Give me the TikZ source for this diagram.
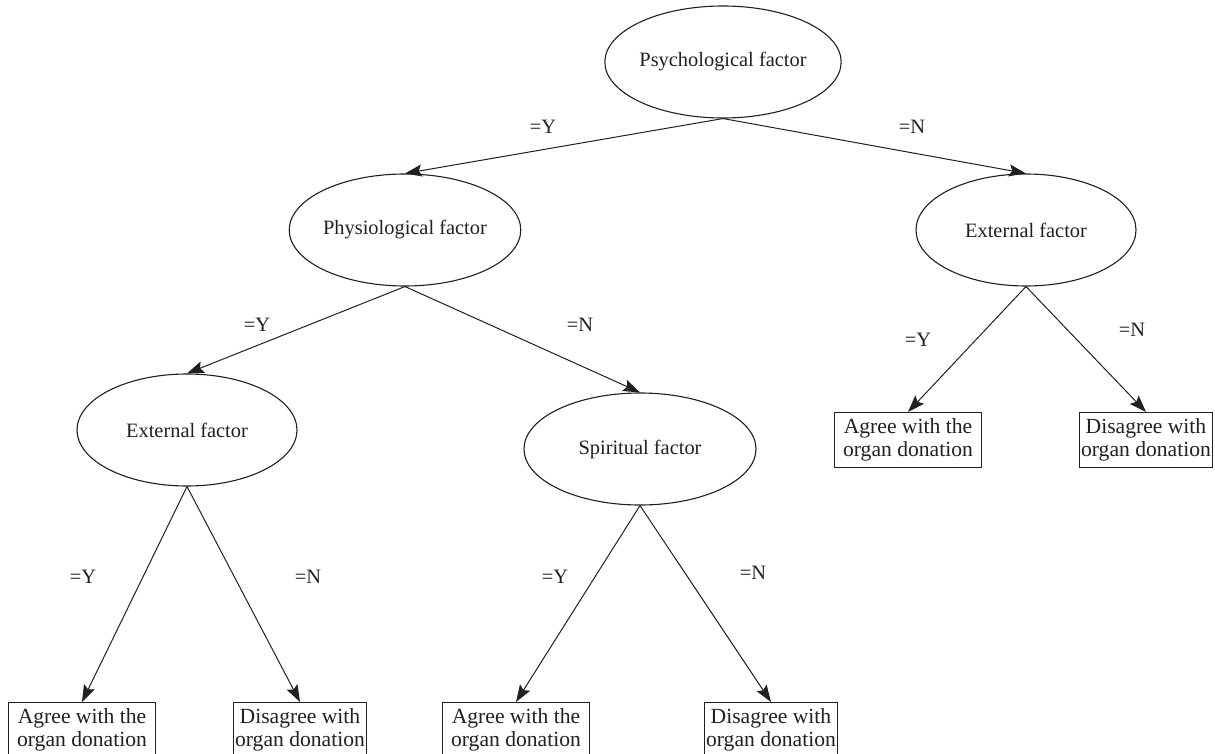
\documentclass[tikz,border=0pt]{standalone}
\usepackage{fontspec}
\setmainfont{Liberation Serif}
\usetikzlibrary{shapes.geometric,arrows.meta}
\definecolor{ink}{HTML}{231F20}
\tikzset{
  factor/.style={ellipse, draw=ink, line width=0.55pt, minimum width=110pt, minimum height=56pt, inner sep=0pt, text=ink, font=\fontsize{10.2}{11.8}\selectfont},
  leaf/.style={rectangle, draw=ink, line width=0.55pt, align=center, minimum height=27.5pt, inner xsep=1pt, inner ysep=0pt, text=ink, font=\fontsize{10.8}{11.6}\selectfont},
  agreebox/.style={leaf, minimum width=73.5pt},
  disbox/.style={leaf, minimum width=66.5pt},
  branch/.style={draw=ink, line width=0.5pt, -{Stealth[length=8.5pt,width=6pt,inset=1.5pt]}},
  lab/.style={text=ink, inner sep=0pt, font=\fontsize{10.2}{11.8}\selectfont}
}
\begin{document}
\begin{tikzpicture}[x=0.5pt, y=-0.5pt]
  \useasboundingbox (0,0) rectangle (1215,754);

  % factors
  \node[factor] (psych) at (723,62) {Psychological factor};
  \node[factor] (physio) at (405,230) {Physiological factor};
  \node[factor] (extR) at (1026,230) {External factor};
  \node[factor] (extL) at (187,430) {External factor};
  \node[factor, minimum width=116pt] (spirit) at (640,449) {Spiritual factor};

  % outcomes
  \node[agreebox, anchor=north] (agreeA) at (82,702) {Agree with the\\organ donation};
  \node[disbox, anchor=north] (disA) at (300,702) {Disagree with\\organ donation};
  \node[agreebox, anchor=north] (agreeB) at (516,702) {Agree with the\\organ donation};
  \node[disbox, anchor=north] (disB) at (771,702) {Disagree with\\organ donation};
  \node[agreebox, anchor=north] (agreeC) at (908,412) {Agree with the\\organ donation};
  \node[disbox, anchor=north] (disC) at (1146,412) {Disagree with\\organ donation};

  \draw[branch] (psych.south) -- (physio.north);
  \draw[branch] (psych.south) -- (extR.north);
  \draw[branch] (physio.south) -- (extL.north);
  \draw[branch] (physio.south) -- (spirit.north);
  \draw[branch] (extL.south) -- (agreeA.north);
  \draw[branch] (extL.south) -- (disA.north);
  \draw[branch] (spirit.south) -- (agreeB.north);
  \draw[branch] (spirit.south) -- (disB.north);
  \draw[branch] (extR.south) -- (agreeC.north);
  \draw[branch] (extR.south) -- (disC.north);

  % branch labels
  \node[lab] (y1) at (543,127) {=Y};
  \node[lab] (n1) at (912,127) {=N};
  \node[lab] (y2) at (257,325) {=Y};
  \node[lab] (n2) at (580,325) {=N};
  \node[lab] (y3) at (83,577) {=Y};
  \node[lab] (n3) at (308,577) {=N};
  \node[lab] (y4) at (555,577) {=Y};
  \node[lab] (n4) at (753,573) {=N};
  \node[lab] (y5) at (918,340) {=Y};
  \node[lab] (n5) at (1132,330) {=N};
\end{tikzpicture}
\end{document}
